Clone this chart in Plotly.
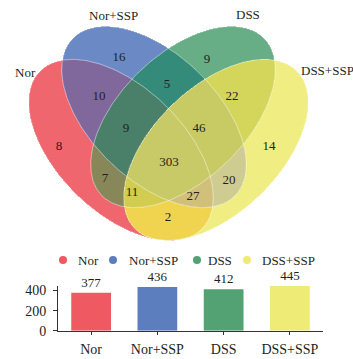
import numpy as np
import plotly.graph_objects as go

# ---- data -------------------------------------------------------------
sets = ["Nor", "Nor+SSP", "DSS", "DSS+SSP"]
set_totals = [377, 436, 412, 445]

# exclusive counts per Venn region; key = membership flags (Nor, Nor+SSP, DSS, DSS+SSP)
region_keys = ["1000", "0100", "0010", "0001",
               "1100", "0110", "0011", "1001", "1010", "0101",
               "1110", "0111", "1011", "1101", "1111"]
region_counts = [8, 16, 9, 14,
                 10, 5, 22, 2, 7, 20,
                 9, 46, 11, 27, 303]

# ---- styling / layout constants ---------------------------------------
W, H = 353, 359
FONT = "Liberation Serif"
INK = "#231F20"
bar_colors = ["#EF5962", "#5C7DBE", "#52A273", "#EEEB76"]

# ellipse geometry in pixel units (cx, cy, semi-major, semi-minor, tilt deg; y grows downward)
ellipses = [
    (121, 150, 113, 63, 44),
    (154, 117, 113, 63, 44),
    (183, 117, 113, 63, 136),
    (216, 150, 113, 63, 136),
]

# fill colour of every overlap, indexed by membership bitmask (Nor=1, Nor+SSP=2, DSS=4, DSS+SSP=8)
region_fill = {
    1: "#F0666E", 2: "#6B89C4", 4: "#67AE86", 8: "#F0ED82",
    3: "#80689D", 6: "#358B79", 12: "#D4D65C", 9: "#F0D450",
    5: "#87875A", 10: "#CFCC91", 7: "#4A806A", 14: "#C8CB64",
    13: "#D2CD50", 11: "#D0C07A", 15: "#C8CA68",
}

# where each region's count is written
region_label_pos = {
    "1000": (59, 147), "0100": (119, 58), "0010": (207, 60), "0001": (269, 147),
    "1100": (99, 97), "0110": (167, 85), "0011": (232, 97), "1001": (168, 218),
    "1010": (105, 179), "0101": (229, 181), "1110": (126, 129), "0111": (199, 129),
    "1011": (132, 193), "1101": (193, 197), "1111": (169, 163),
}
set_label_pos = [(25, 72), (113, 15), (248, 14), (327, 70)]
legend_marker_x = [63, 113, 197, 247]
legend_text_x = [76, 127, 206, 260]
legend_y = 260

# ---- Venn membership raster --------------------------------------------
xs = np.arange(15, 335) + 0.5
ys = np.arange(15, 250) + 0.5
gx, gy = np.meshgrid(xs, ys)
mask = np.zeros(gx.shape, dtype=int)
for bit, (cx, cy, a, b, ang) in enumerate(ellipses):
    t = np.deg2rad(ang)
    dx, dy = gx - cx, gy - cy
    u = dx * np.cos(t) + dy * np.sin(t)
    v = -dx * np.sin(t) + dy * np.cos(t)
    inside = (u / a) ** 2 + (v / b) ** 2 <= 1.0
    mask += inside.astype(int) << bit
z = np.where(mask == 0, np.nan, mask.astype(float))

colorscale = []
for k in range(1, 16):
    colorscale.append([(k - 1) / 15, region_fill[k]])
    colorscale.append([k / 15, region_fill[k]])

fig = go.Figure()
fig.add_trace(go.Heatmap(
    x=xs, y=ys, z=z, colorscale=colorscale, zmin=0.5, zmax=15.5,
    showscale=False, hoverinfo="skip", zsmooth=False,
    xaxis="x", yaxis="y",
))

# faint outlines along every ellipse edge
tt = np.linspace(0, 2 * np.pi, 400)
for cx, cy, a, b, ang in ellipses:
    t = np.deg2rad(ang)
    ex = cx + a * np.cos(tt) * np.cos(t) - b * np.sin(tt) * np.sin(t)
    ey = cy + a * np.cos(tt) * np.sin(t) + b * np.sin(tt) * np.cos(t)
    fig.add_trace(go.Scatter(
        x=ex, y=ey, mode="lines", line=dict(color="rgba(255,255,255,0.45)", width=1),
        hoverinfo="skip", showlegend=False, xaxis="x", yaxis="y",
    ))

# region counts
fig.add_trace(go.Scatter(
    x=[region_label_pos[k][0] for k in region_keys],
    y=[region_label_pos[k][1] for k in region_keys],
    text=[str(c) for c in region_counts], mode="text",
    textfont=dict(family=FONT, size=13, color=INK),
    hoverinfo="skip", showlegend=False, xaxis="x", yaxis="y",
))

# set names around the diagram
for name, (lx, ly) in zip(sets, set_label_pos):
    fig.add_annotation(x=lx, y=ly, xref="x", yref="y", text=name, showarrow=False,
                       font=dict(family=FONT, size=13, color=INK))

# legend row
fig.add_trace(go.Scatter(
    x=legend_marker_x, y=[legend_y] * 4, mode="markers",
    marker=dict(size=8, color=bar_colors, symbol="circle"),
    hoverinfo="skip", showlegend=False, xaxis="x", yaxis="y",
))
for name, tx in zip(sets, legend_text_x):
    fig.add_annotation(x=tx, y=legend_y, xref="x", yref="y", text=name, showarrow=False,
                       xanchor="left", yanchor="middle",
                       font=dict(family=FONT, size=13, color=INK))

# set size bar chart
fig.add_trace(go.Bar(
    x=sets, y=set_totals, marker=dict(color=bar_colors, line=dict(width=0)),
    width=0.6, text=[str(v) for v in set_totals], textposition="outside",
    cliponaxis=False, textfont=dict(family=FONT, size=13, color=INK),
    hoverinfo="skip", showlegend=False, xaxis="x2", yaxis="y2",
))

fig.update_layout(
    width=W, height=H, autosize=False,
    margin=dict(l=0, r=0, t=0, b=0, pad=0, autoexpand=False),
    paper_bgcolor="white", plot_bgcolor="rgba(0,0,0,0)",
    showlegend=False,
    xaxis=dict(domain=[0, 1], range=[0, W], visible=False, fixedrange=True, automargin=False),
    yaxis=dict(domain=[0, 1], range=[H, 0], visible=False, fixedrange=True, automargin=False),
    xaxis2=dict(domain=[58 / W, 323 / W], anchor="y2", type="category", automargin=False,
                range=[-0.5, 3.5], showline=True, linecolor="#333", linewidth=1,
                ticks="outside", ticklen=3, tickcolor="#333", showgrid=False,
                tickfont=dict(family=FONT, size=14, color=INK), ticklabelstandoff=2),
    yaxis2=dict(domain=[(H - 330.7) / H, (H - 286) / H], anchor="x2", automargin=False,
                range=[0, 445], tickvals=[0, 200, 400], showline=True,
                linecolor="#333", linewidth=1, ticks="outside", ticklen=4,
                tickcolor="#333", showgrid=False, zeroline=False,
                tickfont=dict(family=FONT, size=14, color=INK), ticklabelstandoff=4),
)

fig.write_html("out.html")
